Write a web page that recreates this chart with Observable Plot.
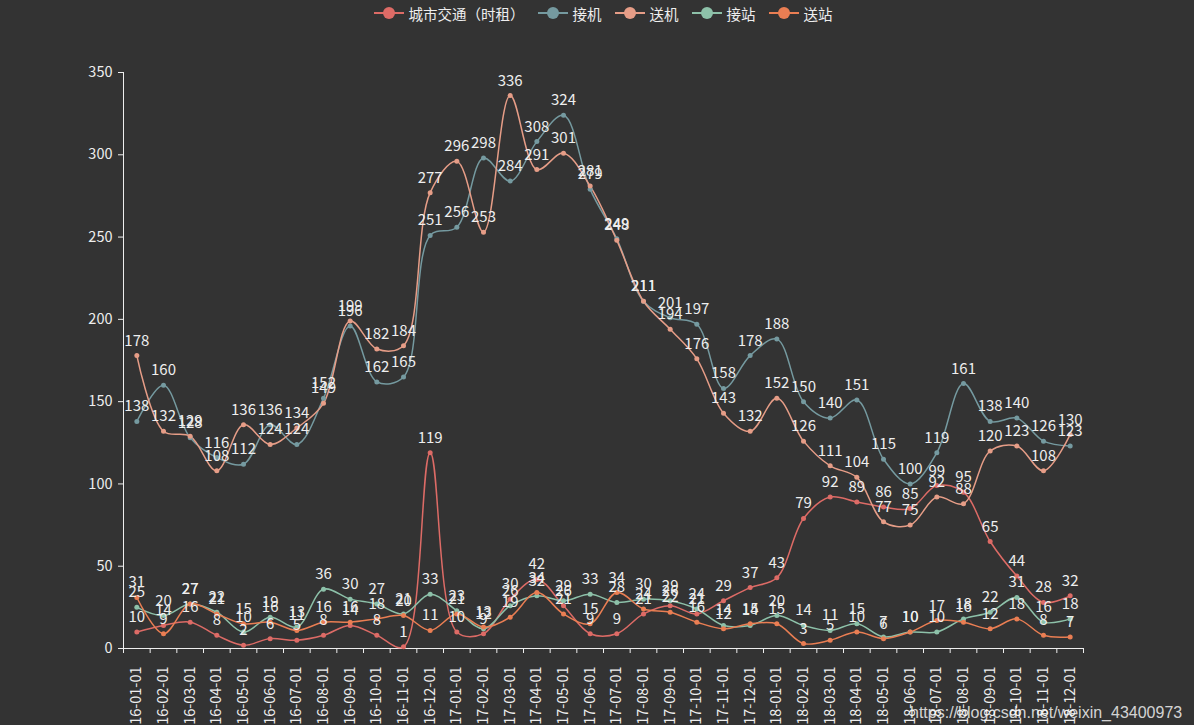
<!DOCTYPE html>
<html><head><meta charset="utf-8">
<script src="https://cdn.jsdelivr.net/npm/d3@7"></script>
<script src="https://cdn.jsdelivr.net/npm/@observablehq/plot@0.6"></script>
<style>
html,body{margin:0;padding:0;background:#333;overflow:hidden}
body{width:1194px;height:725px;position:relative;font-family:"Noto Sans CJK SC","Noto Sans",sans-serif}
#legend{height:26px;display:flex;justify-content:center;align-items:center;gap:13px;color:#eee;font-size:14.5px;padding-left:12px;box-sizing:border-box}
.item{display:flex;align-items:center;gap:5px;white-space:nowrap}
#wm{position:absolute;left:910px;top:704px;font:16px "Liberation Sans",Arial,sans-serif;color:rgba(255,255,255,0.8)}
</style></head><body>
<div id="legend"></div>
<div id="chart"></div>
<div id="wm">https://blog.csdn.net/weixin_43400973</div>
<script>
const months = [
  "2016-01-01","2016-02-01","2016-03-01","2016-04-01","2016-05-01","2016-06-01",
  "2016-07-01","2016-08-01","2016-09-01","2016-10-01","2016-11-01","2016-12-01",
  "2017-01-01","2017-02-01","2017-03-01","2017-04-01","2017-05-01","2017-06-01",
  "2017-07-01","2017-08-01","2017-09-01","2017-10-01","2017-11-01","2017-12-01",
  "2018-01-01","2018-02-01","2018-03-01","2018-04-01","2018-05-01","2018-06-01",
  "2018-07-01","2018-08-01","2018-09-01","2018-10-01","2018-11-01","2018-12-01"
];
const seriesNames = ["城市交通（时租）", "接机", "送机", "接站", "送站"];
const colors = ["#dd6b66", "#759aa0", "#e69d87", "#8dc1a9", "#ea7e53"];
const cityTraffic = [10,14,16,8,2,6,5,8,14,8,1,119, 10,9,30,42,26,9,9,21,26,21,29,37, 43,79,92,89,86,85,99,95,65,44,28,32];
const airportPickup = [138,160,128,116,112,136,124,152,196,162,165,251, 256,298,284,308,324,279,249,211,201,197,158,178, 188,150,140,151,115,100,119,161,138,140,126,123];
const airportDropoff = [178,132,129,108,136,124,134,149,199,182,184,277, 296,253,336,291,301,281,248,211,194,176,143,132, 152,126,111,104,77,75,92,88,120,123,108,130];
const stationPickup = [25,20,27,22,10,19,13,36,30,27,21,33, 23,12,26,32,29,33,28,30,29,24,14,14, 20,14,11,15,7,10,10,18,22,31,16,18];
const stationDropoff = [31,9,27,21,15,16,11,16,16,18,20,11, 21,13,19,34,21,15,34,24,22,16,12,15, 15,3,5,10,6,10,17,16,12,18,8,7];
const yTicks = [0, 50, 100, 150, 200, 250, 300, 350];

const seriesValues = [cityTraffic, airportPickup, airportDropoff, stationPickup, stationDropoff];
const rows = seriesNames.flatMap((name, s) => seriesValues[s].map((v, i) => ({name, i, v})));
const idx = d3.range(months.length);
const bounds = d3.range(months.length + 1).map(i => i - 0.5);

// legend
const legend = document.getElementById("legend");
seriesNames.forEach((n, k) => {
  const it = document.createElement("div");
  it.className = "item";
  it.innerHTML = `<svg width="30" height="14"><line x1="0" x2="30" y1="7" y2="7" stroke="${colors[k]}" stroke-width="2"/><circle cx="15" cy="7" r="6" fill="${colors[k]}"/></svg><span>${n}</span>`;
  legend.appendChild(it);
});

const plot = Plot.plot({
  width: 1194, height: 699,
  marginTop: 46, marginBottom: 77, marginLeft: 123, marginRight: 111,
  style: {background: "#333", color: "#eee", fontSize: "14px", fontFamily: "'Noto Sans CJK SC','Noto Sans',sans-serif", overflow: "visible"},
  x: {domain: [-0.5, months.length - 0.5], axis: null},
  y: {domain: [0, 350], axis: null},
  color: {domain: seriesNames, range: colors},
  marks: [
    Plot.axisY(yTicks, {tickSize: 5, tickPadding: 6, label: null, fontSize: 14.5}),
    Plot.axisX(bounds, {tickSize: 5, tickFormat: () => "", label: null}),
    Plot.axisX(idx, {tickSize: 0, tickPadding: 18, tickRotate: -90, tickFormat: i => months[i], label: null, fontSize: 14.5}),
    Plot.frame({anchor: "left", stroke: "#eee"}),
    Plot.frame({anchor: "bottom", stroke: "#eee"}),
    Plot.line(rows, {x: "i", y: "v", z: "name", stroke: "name", curve: "catmull-rom", strokeWidth: 1.5}),
    Plot.dot(rows, {x: "i", y: "v", fill: "name", r: 2.5}),
    Plot.text(rows, {x: "i", y: "v", text: "v", dy: -10, lineAnchor: "bottom", fill: "#eee", fontSize: 15})
  ]
});
document.getElementById("chart").appendChild(plot);
</script>
</body></html>
